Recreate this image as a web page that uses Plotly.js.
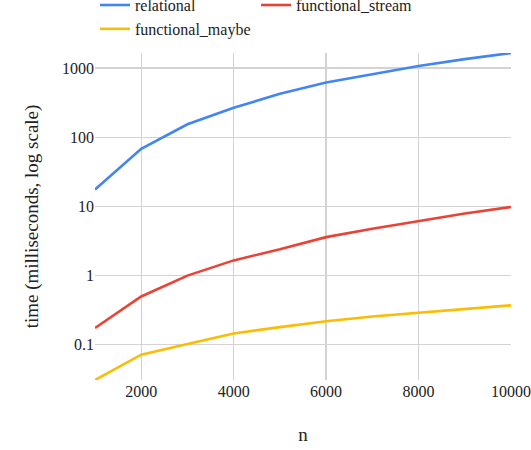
<!DOCTYPE html>
<html>
<head>
<meta charset="utf-8">
<script src="https://cdn.plot.ly/plotly-3.0.1.min.js"></script>
<style>
html,body{margin:0;padding:0;background:#fff;font-family:'Liberation Serif',serif;}
#chart{width:531px;height:450px;}
#chart text{font-family:'Liberation Serif',serif !important;}
</style>
</head>
<body>
<div id="chart"></div>
<script>
const n = [1000, 2000, 3000, 4000, 5000, 6000, 7000, 8000, 9000, 10000];
const relational = [17.6, 68, 154, 266, 425, 617, 815, 1070, 1345, 1650];
const functional_stream = [0.175, 0.5, 1.0, 1.66, 2.4, 3.6, 4.75, 6.2, 7.9, 9.8];
const functional_maybe = [0.031, 0.072, 0.103, 0.146, 0.18, 0.219, 0.256, 0.288, 0.33, 0.372];
const seriesNames = ['relational', 'functional_stream', 'functional_maybe'];
const colors = ['#4285F4', '#EA4335', '#FBBC04'];
const series = [relational, functional_stream, functional_maybe];

const FAM = 'Liberation Serif';
const traces = series.map((s, i) => ({
  x: n, y: s, type: 'scatter', mode: 'lines', name: seriesNames[i],
  line: {color: colors[i], width: 2.6}
}));
const all = [].concat(...series);
const layout = {
  width: 531, height: 450,
  margin: {l: 95, r: 20, t: 53, b: 70},
  paper_bgcolor: '#fff', plot_bgcolor: '#fff',
  font: {family: FAM, size: 16, color: '#222'},
  showlegend: true,
  legend: {orientation: 'h', xref: 'container', yref: 'container', x: 0.483, xanchor: 'center', y: 0.962, yanchor: 'middle'},
  xaxis: {
    range: [Math.min(...n), Math.max(...n)],
    tick0: 0, dtick: 2000, tickformat: 'd', showgrid: true, gridcolor: '#d3d3d3', gridwidth: 1.3,
    zeroline: false, showline: false,
    title: {text: 'n', standoff: 28}
  },
  yaxis: {
    type: 'log',
    range: [Math.log10(Math.min(...all)), Math.log10(Math.max(...all))],
    tickvals: [0.1, 1, 10, 100, 1000], ticktext: ['0.1', '1', '10', '100', '1000'],
    showgrid: true, gridcolor: '#d3d3d3', gridwidth: 1.3,
    zeroline: false, showline: false,
    title: {text: 'time (milliseconds, log scale)', standoff: 18}
  }
};
Plotly.newPlot('chart', traces, layout, {displayModeBar: false, staticPlot: true});
</script>
</body>
</html>
